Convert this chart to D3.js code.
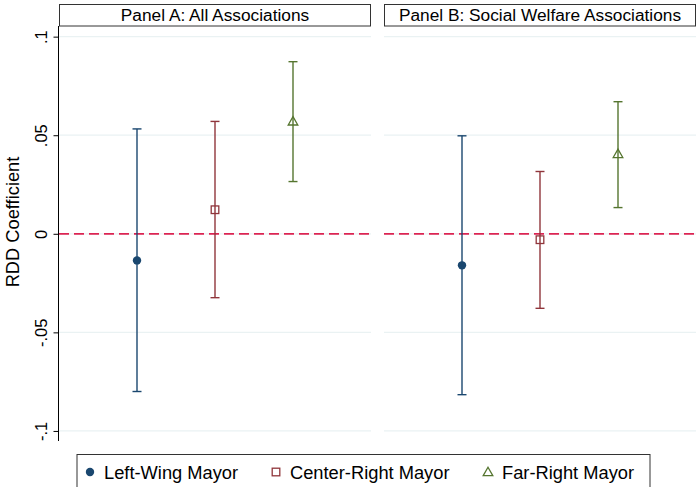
<!DOCTYPE html>
<html>
<head>
<meta charset="utf-8">
<script src="https://cdn.jsdelivr.net/npm/d3@7"></script>
<style>
  body { margin: 0; background: #fff; }
  svg text { font-family: "Liberation Sans", Arial, sans-serif; fill: #000; }
</style>
</head>
<body>
<svg id="chart" width="698" height="487"></svg>
<script>
// data
var panels = ["Panel A: All Associations", "Panel B: Social Welfare Associations"];
var groups = ["Left-Wing Mayor", "Center-Right Mayor", "Far-Right Mayor"];
var coefA = [-0.0135, 0.0122, 0.0570];
var lowA  = [-0.0800, -0.0324, 0.0265];
var highA = [0.0532, 0.0570, 0.0873];
var coefB = [-0.0160, -0.0030, 0.0405];
var lowB  = [-0.0816, -0.0378, 0.0133];
var highB = [0.0497, 0.0316, 0.0670];
var yTicks = [-0.1, -0.05, 0, 0.05, 0.1];
var yTickLabels = ["-.1", "-.05", "0", ".05", ".1"];

var colors = ["#1a476f", "#90353b", "#55752f"];
var shapes = ["circle", "square", "triangle"];

var svg = d3.select("#chart");
var width = 698, height = 487;

var plotTop = 26, plotBottom = 441;
var panelX = [[59, 371], [384, 696]];

var y = d3.scaleLinear().domain([-0.1051, 0.1054]).range([plotBottom, plotTop]);

function marker(g, shape, color, cx, cy) {
  if (shape === "circle") {
    g.append("circle").attr("cx", cx).attr("cy", cy).attr("r", 4.2)
      .attr("fill", color).attr("stroke", "none");
  } else if (shape === "square") {
    g.append("rect").attr("x", cx - 3.8).attr("y", cy - 3.8)
      .attr("width", 7.6).attr("height", 7.6)
      .attr("fill", "none").attr("stroke", color).attr("stroke-width", 1.3);
  } else {
    var s = 4.8;
    g.append("path")
      .attr("d", "M" + cx + "," + (cy - s) + "L" + (cx + s) + "," + (cy + s * 0.75) +
                 "L" + (cx - s) + "," + (cy + s * 0.75) + "Z")
      .attr("fill", "none").attr("stroke", color).attr("stroke-width", 1.3);
  }
}

var panelData = [
  { title: panels[0], coef: coefA, low: lowA, high: highA },
  { title: panels[1], coef: coefB, low: lowB, high: highB }
];

panelData.forEach(function (p, pi) {
  var x0 = panelX[pi][0], x1 = panelX[pi][1];
  var x = d3.scalePoint().domain(groups).range([x0, x1]).padding(1);
  var g = svg.append("g");

  // gridlines
  g.selectAll(".grid").data(yTicks).enter().append("line")
    .attr("x1", x0).attr("x2", x1)
    .attr("y1", function (d) { return y(d); })
    .attr("y2", function (d) { return y(d); })
    .attr("stroke", "#eaf2f3").attr("stroke-width", 1.2);

  // zero line
  g.append("line")
    .attr("x1", x0).attr("x2", x1)
    .attr("y1", y(0)).attr("y2", y(0))
    .attr("stroke", "#dc2453").attr("stroke-width", 1.8)
    .attr("stroke-dasharray", "10,5");

  // CIs and markers
  groups.forEach(function (grp, i) {
    var cx = x(grp);
    var col = colors[i];
    g.append("line").attr("x1", cx).attr("x2", cx)
      .attr("y1", y(p.low[i])).attr("y2", y(p.high[i]))
      .attr("stroke", col).attr("stroke-width", 1.4);
    [p.low[i], p.high[i]].forEach(function (v) {
      g.append("line").attr("x1", cx - 4.5).attr("x2", cx + 4.5)
        .attr("y1", y(v)).attr("y2", y(v))
        .attr("stroke", col).attr("stroke-width", 1.4);
    });
    marker(g, shapes[i], col, cx, y(p.coef[i]));
  });

  // panel title box
  g.append("rect").attr("x", x0 + 0.5).attr("y", 4.5)
    .attr("width", x1 - x0 - 1).attr("height", 21.5)
    .attr("fill", "#fff").attr("stroke", "#333").attr("stroke-width", 1);
  g.append("text").attr("x", (x0 + x1) / 2).attr("y", 21)
    .attr("text-anchor", "middle").style("font-size", "17.3px")
    .text(p.title);
});

// y axis
var yAxis = d3.axisLeft(y).tickValues(yTicks)
  .tickFormat(function (d, i) { return yTickLabels[i]; })
  .tickSize(5).tickPadding(0);
var ax = svg.append("g").attr("transform", "translate(58.5,0)").call(yAxis);
ax.select(".domain").attr("d", "M0," + plotTop + "V" + plotBottom).attr("stroke", "#000");
ax.selectAll(".tick line").attr("stroke", "#000");
ax.selectAll(".tick text")
  .attr("x", null).attr("dy", null)
  .attr("text-anchor", "middle")
  .attr("transform", "translate(-12,0) rotate(-90)")
  .style("font-size", "16.5px").style("font-family", "Liberation Sans, Arial, sans-serif");

svg.append("text")
  .attr("transform", "translate(19," + 222 + ") rotate(-90)")
  .attr("text-anchor", "middle").style("font-size", "18.3px")
  .text("RDD Coefficient");

// legend
var leg = svg.append("g");
leg.append("rect").attr("x", 77).attr("y", 454.5).attr("width", 573).attr("height", 40)
  .attr("fill", "#fff").attr("stroke", "#333").attr("stroke-width", 1);
var legX = [90, 276, 488];
groups.forEach(function (grp, i) {
  marker(leg, shapes[i], colors[i], legX[i], 472);
  leg.append("text").attr("x", legX[i] + 14).attr("y", 478.5)
    .style("font-size", "18.3px").text(grp);
});
</script>
</body>
</html>
